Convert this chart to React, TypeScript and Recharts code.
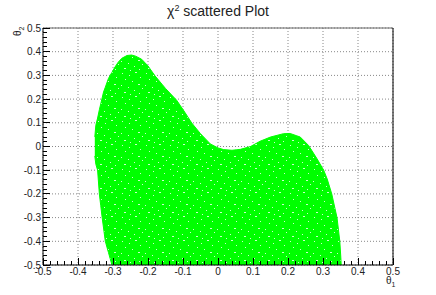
import { Area, CartesianGrid, ComposedChart, ReferenceLine, XAxis, YAxis } from "recharts";

// theta1 positions along the outline of the allowed region
const thetaX = [
  -0.352, -0.349, -0.344, -0.339, -0.335, -0.331, -0.327, -0.322, -0.313, -0.303,
  -0.294, -0.285, -0.275, -0.26, -0.247, -0.235, -0.218, -0.2, -0.18, -0.15, -0.118,
  -0.095, -0.075, -0.05, -0.022, 0.0, 0.016, 0.04, 0.064, 0.093, 0.12, 0.15, 0.187,
  0.206, 0.235, 0.259, 0.283, 0.302, 0.312, 0.325, 0.34, 0.348, 0.351, 0.352,
];
// lower edge of the scattered points (theta2)
const lowerEdge = [
  -0.04, -0.075, -0.1, -0.2, -0.25, -0.3, -0.344, -0.4, -0.447, -0.5,
  -0.5, -0.5, -0.5, -0.5, -0.5, -0.5, -0.5, -0.5, -0.5, -0.5, -0.5,
  -0.5, -0.5, -0.5, -0.5, -0.5, -0.5, -0.5, -0.5, -0.5, -0.5, -0.5, -0.5,
  -0.5, -0.5, -0.5, -0.5, -0.5, -0.5, -0.5, -0.5, -0.5, -0.5, -0.5,
];
// upper edge of the scattered points (theta2)
const upperEdge = [
  0.04, 0.09, 0.12, 0.155, 0.18, 0.205, 0.23, 0.25, 0.287, 0.313,
  0.336, 0.356, 0.372, 0.384, 0.386, 0.381, 0.368, 0.34, 0.298, 0.245, 0.195,
  0.145, 0.099, 0.054, 0.011, -0.006, -0.013, -0.016, -0.012, 0.0, 0.022, 0.04, 0.054,
  0.055, 0.04, 0.004, -0.052, -0.1, -0.137, -0.2, -0.3, -0.4, -0.47, -0.5,
];

const majorTicks = [-0.5, -0.4, -0.3, -0.2, -0.1, 0, 0.1, 0.2, 0.3, 0.4, 0.5];
const minorPerMajor = 5;

const data = thetaX.map((x, i) => ({ x, range: [lowerEdge[i], upperEdge[i]] }));

// major + minor ticks (ROOT draws 4 minor ticks between labels)
const allTicks: number[] = [];
majorTicks.forEach((t, i) => {
  allTicks.push(t);
  if (i < majorTicks.length - 1) {
    const step = (majorTicks[i + 1] - t) / minorPerMajor;
    for (let k = 1; k < minorPerMajor; k++) allTicks.push(Math.round((t + k * step) * 1000) / 1000);
  }
});

const isMajor = (v: number) => majorTicks.some((m) => Math.abs(m - v) < 1e-6);
const fmt = (v: number) => (Math.abs(v) < 1e-9 ? "0" : v.toFixed(1));

const FONT = "'Liberation Sans', Arial, sans-serif";

// white gaps between the scattered markers
const specks = [
  [2, 1, 1], [9, 3, 1], [15, 0, 2], [20, 5, 1], [5, 7, 1], [12, 9, 1],
  [18, 12, 2], [1, 13, 1], [8, 15, 1], [22, 16, 1], [14, 18, 1], [4, 20, 2],
  [19, 21, 1], [10, 22, 1],
];

function XTick(props: any) {
  const { x, y, payload } = props;
  const major = isMajor(payload.value);
  return (
    <g>
      <line x1={x} y1={y} x2={x} y2={y - (major ? 7 : 4)} stroke="#000" shapeRendering="crispEdges" />
      {major && (
        <text x={x} y={y + 10} textAnchor="middle" fontSize={10} fill="#222" fontFamily={FONT}>
          {fmt(payload.value)}
        </text>
      )}
    </g>
  );
}

function YTick(props: any) {
  const { x, y, payload } = props;
  const major = isMajor(payload.value);
  return (
    <g>
      <line x1={x} y1={y} x2={x + (major ? 7 : 4)} y2={y} stroke="#000" shapeRendering="crispEdges" />
      {major && (
        <text x={x - 2} y={y + 3.5} textAnchor="end" fontSize={10} fill="#222" fontFamily={FONT}>
          {fmt(payload.value)}
        </text>
      )}
    </g>
  );
}

export default function App() {
  return (
    <div style={{ position: "absolute", left: 0, top: 0, width: 436, height: 295, background: "#fff", fontFamily: FONT }}>
      <svg width={0} height={0} style={{ position: "absolute" }}>
        <defs>
          <pattern id="specks" width={24} height={24} patternUnits="userSpaceOnUse">
            <rect width={24} height={24} fill="#00ff00" />
            {specks.map(([sx, sy, w], i) => (
              <rect key={i} x={sx} y={sy} width={w} height={1} fill="#ffffff" opacity={0.8} />
            ))}
          </pattern>
        </defs>
      </svg>
      <ComposedChart width={436} height={295} data={data} margin={{ top: 28, right: 43, bottom: 0, left: 0 }}>
        <CartesianGrid
          horizontalValues={majorTicks}
          verticalValues={majorTicks}
          stroke="#888"
          strokeDasharray="1 2"
        />
        <XAxis
          type="number"
          dataKey="x"
          domain={[-0.5, 0.5]}
          ticks={allTicks}
          interval={0}
          allowDataOverflow
          height={30}
          tickSize={0}
          tickMargin={0}
          tickLine={false}
          axisLine={{ stroke: "#000" }}
          tick={(p: any) => <XTick {...p} />}
        />
        <YAxis
          type="number"
          domain={[-0.5, 0.5]}
          ticks={allTicks}
          interval={0}
          allowDataOverflow
          width={43}
          tickSize={0}
          tickMargin={0}
          tickLine={false}
          axisLine={{ stroke: "#000" }}
          tick={(p: any) => <YTick {...p} />}
        />
        <Area
          type="linear"
          dataKey="range"
          stroke="#00ff00"
          strokeWidth={1}
          fill="url(#specks)"
          fillOpacity={1}
          isAnimationActive={false}
          dot={false}
          activeDot={false}
        />
        <ReferenceLine y={0.5} stroke="#666" />
        <ReferenceLine x={0.5} stroke="#000" />
      </ComposedChart>
      <svg width={436} height={295} style={{ position: "absolute", left: 0, top: 0, pointerEvents: "none" }}>
        <text x={218} y={16} textAnchor="middle" fontSize={14} fill="#222" fontFamily={FONT}>
          χ<tspan dy={-5} fontSize={9}>2</tspan>
          <tspan dy={5}> scattered Plot</tspan>
        </text>
        <text transform="translate(21,36) rotate(-90)" fontSize={10} fill="#222" fontFamily={FONT}>
          θ<tspan dy={3} fontSize={7}>2</tspan>
        </text>
        <text x={386} y={284} fontSize={10} fill="#222" fontFamily={FONT}>
          θ<tspan dy={3} fontSize={7}>1</tspan>
        </text>
      </svg>
    </div>
  );
}
